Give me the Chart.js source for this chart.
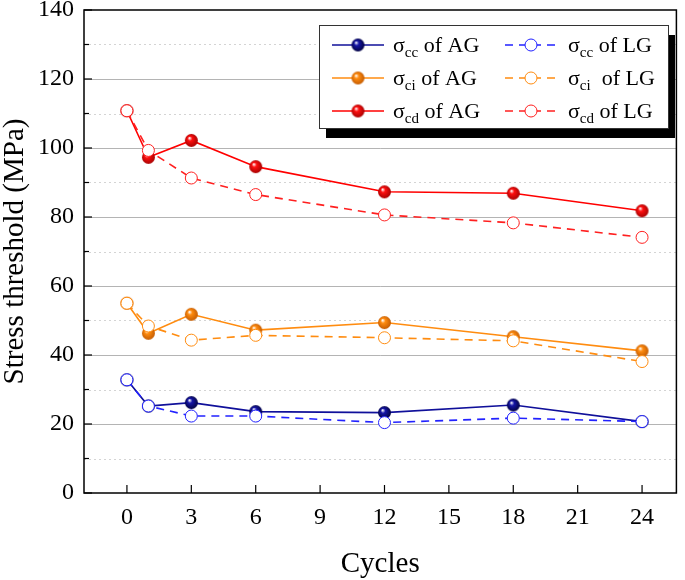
<!DOCTYPE html>
<html>
<head>
<meta charset="utf-8">
<script src="https://cdn.jsdelivr.net/npm/chart.js@4"></script>
<style>
  html, body { margin: 0; padding: 0; background: #fff; }
  #wrap { width: 685px; height: 580px; }
</style>
</head>
<body>
<div id="wrap"><canvas id="chart" width="685" height="580"></canvas></div>
<script>
// data
const cycles = [0, 1, 3, 6, 12, 18, 24];
const xTicks = [0, 3, 6, 9, 12, 15, 18, 21, 24];

const ccAG = [32.8, 25.2, 26.2, 23.6, 23.3, 25.5, 20.7];
const ccLG = [32.8, 25.2, 22.3, 22.3, 20.4, 21.7, 20.7];
const ciAG = [55.0, 46.3, 51.8, 47.2, 49.4, 45.3, 41.2];
const ciLG = [55.0, 48.4, 44.3, 45.7, 45.0, 44.1, 38.1];
const cdAG = [110.8, 97.3, 102.2, 94.6, 87.3, 86.9, 81.8];
const cdLG = [110.8, 99.3, 91.3, 86.5, 80.6, 78.3, 74.1];

const FONT = "'Liberation Serif', 'Times New Roman', serif";

// shaded ball marker for the AG series
function ball(color, dark) {
    const c = document.createElement('canvas');
    c.width = 15; c.height = 15;
    const g = c.getContext('2d');
    const grad = g.createRadialGradient(5.5, 5, 0.3, 7.5, 7.5, 7);
    grad.addColorStop(0, '#ffffff');
    grad.addColorStop(0.3, color);
    grad.addColorStop(1, dark);
    g.fillStyle = grad;
    g.beginPath();
    g.arc(7.5, 7.5, 6.5, 0, Math.PI * 2);
    g.fill();
    return c;
}

const colors = {
    cc: { ag: '#10109a', lg: '#2222ff', dark: '#00003a' },
    ci: { ag: '#ff8c10', lg: '#ff8c10', dark: '#c05800' },
    cd: { ag: '#ff0000', lg: '#ff2020', dark: '#a00000' }
};
const balls = {
    cc: ball('#1515a8', colors.cc.dark),
    ci: ball('#ff8c10', colors.ci.dark),
    cd: ball('#ff1010', colors.cd.dark)
};

function pts(arr) {
    return cycles.map((c, i) => ({ x: c, y: arr[i] }));
}

function agSet(key, arr) {
    return {
        label: 'σ' + key + ' of AG',
        data: pts(arr),
        borderColor: colors[key].ag,
        borderWidth: 1.6,
        pointStyle: balls[key],
        pointRadius: 7,
        tension: 0,
        order: 2
    };
}
function lgSet(key, arr) {
    return {
        label: 'σ' + key + ' of LG',
        data: pts(arr),
        borderColor: colors[key].lg,
        borderWidth: 1.6,
        borderDash: [8, 6],
        pointStyle: 'circle',
        pointRadius: 6,
        pointBorderWidth: 1,
        pointBackgroundColor: '#ffffff',
        pointBorderColor: colors[key].lg,
        tension: 0,
        order: 1
    };
}

// grid, frame and inward ticks
const framePlugin = {
    id: 'frame',
    beforeDatasetsDraw(chart) {
        const { ctx, chartArea: a, scales: { x, y } } = chart;
        ctx.save();
        const yt = y.ticks.map(t => t.value);
        // minor dotted lines
        ctx.strokeStyle = '#d4d4d4';
        ctx.lineWidth = 1;
        ctx.setLineDash([2, 3]);
        for (let i = 0; i < yt.length - 1; i++) {
            const py = Math.round(y.getPixelForValue((yt[i] + yt[i + 1]) / 2)) + 0.5;
            ctx.beginPath(); ctx.moveTo(a.left, py); ctx.lineTo(a.right, py); ctx.stroke();
        }
        // major lines
        ctx.setLineDash([]);
        ctx.strokeStyle = '#b4b4b4';
        yt.forEach(v => {
            if (v <= y.min || v >= y.max) return;
            const py = Math.round(y.getPixelForValue(v)) + 0.5;
            ctx.beginPath(); ctx.moveTo(a.left, py); ctx.lineTo(a.right, py); ctx.stroke();
        });
        ctx.restore();
    },
    afterDatasetsDraw(chart) {
        const { ctx, chartArea: a, scales: { x, y } } = chart;
        ctx.save();
        ctx.strokeStyle = '#000';
        ctx.lineWidth = 1.5;
        ctx.strokeRect(a.left, a.top, a.right - a.left, a.bottom - a.top);
        ctx.lineWidth = 1.2;
        const yt = y.ticks.map(t => t.value);
        yt.forEach((v, i) => {
            const py = y.getPixelForValue(v);
            ctx.beginPath(); ctx.moveTo(a.left, py); ctx.lineTo(a.left + 8, py); ctx.stroke();
            if (i < yt.length - 1) {
                const pm = y.getPixelForValue((v + yt[i + 1]) / 2);
                ctx.beginPath(); ctx.moveTo(a.left, pm); ctx.lineTo(a.left + 5, pm); ctx.stroke();
            }
        });
        x.ticks.forEach(t => {
            const px = x.getPixelForValue(t.value);
            ctx.beginPath(); ctx.moveTo(px, a.bottom); ctx.lineTo(px, a.bottom - 8); ctx.stroke();
        });
        ctx.restore();
    }
};

// legend with subscripts and drop shadow
const legendPlugin = {
    id: 'subLegend',
    afterDraw(chart) {
        const ctx = chart.ctx;
        const bx = 319, by = 25, bw = 349, bh = 103;
        ctx.save();
        ctx.fillStyle = '#000';
        ctx.fillRect(bx + 7, by + 10, bw, bh);
        ctx.fillStyle = '#fff';
        ctx.fillRect(bx, by, bw, bh);
        ctx.strokeStyle = '#333';
        ctx.lineWidth = 1;
        ctx.strokeRect(bx + 0.5, by + 0.5, bw, bh);

        const keys = ['cc', 'ci', 'cd'];
        const groups = [
            { name: 'AG', lx: 332, tx: 393, dash: [] },
            { name: 'LG', lx: 505, tx: 568, dash: [8, 6] }
        ];
        keys.forEach((k, r) => {
            const cy = 45 + r * 33;
            groups.forEach(g => {
                const col = g.name === 'AG' ? colors[k].ag : colors[k].lg;
                ctx.strokeStyle = col;
                ctx.lineWidth = 1.6;
                ctx.setLineDash(g.dash);
                ctx.beginPath(); ctx.moveTo(g.lx, cy); ctx.lineTo(g.lx + 52, cy); ctx.stroke();
                ctx.setLineDash([]);
                const mx = g.lx + 26;
                if (g.name === 'AG') {
                    ctx.drawImage(balls[k], mx - 7.5, cy - 7.5);
                } else {
                    ctx.fillStyle = '#fff';
                    ctx.beginPath(); ctx.arc(mx, cy, 6, 0, Math.PI * 2); ctx.fill();
                    ctx.lineWidth = 1;
                    ctx.stroke();
                }
                // text
                ctx.fillStyle = '#000';
                ctx.textBaseline = 'alphabetic';
                ctx.textAlign = 'left';
                const base = cy + 7;
                let tx = g.tx;
                ctx.font = '22px ' + FONT;
                ctx.fillText('σ', tx, base);
                tx += ctx.measureText('σ').width;
                ctx.font = '15px ' + FONT;
                ctx.fillText(k, tx, base + 5);
                tx += ctx.measureText(k).width;
                ctx.font = '22px ' + FONT;
                const rest = (k === 'ci' && g.name === 'LG') ? '  of LG' : ' of ' + g.name;
                ctx.fillText(rest, tx, base);
            });
        });
        ctx.restore();
    }
};

new Chart(document.getElementById('chart'), {
    type: 'line',
    data: {
        datasets: [
            lgSet('cc', ccLG), lgSet('ci', ciLG), lgSet('cd', cdLG),
            agSet('cc', ccAG), agSet('ci', ciAG), agSet('cd', cdAG)
        ]
    },
    options: {
        responsive: false,
        animation: false,
        layout: { padding: { top: 10, right: 7, left: 0, bottom: 0 } },
        plugins: {
            legend: { display: false },
            tooltip: { enabled: false }
        },
        scales: {
            x: {
                type: 'linear',
                min: -2,
                max: 25.6,
                afterBuildTicks: s => { s.ticks = xTicks.map(v => ({ value: v })); },
                afterFit: s => { s.height = 87; s.paddingLeft = 0; s.paddingRight = 0; },
                ticks: { font: { family: FONT, size: 24 }, color: '#000', padding: 10, maxRotation: 0, autoSkip: false },
                grid: { display: false, drawTicks: false },
                border: { display: false },
                title: {
                    display: true, text: 'Cycles', color: '#000',
                    font: { family: FONT, size: 29, lineHeight: 1.05 },
                    padding: { top: 0, bottom: 0 }
                }
            },
            y: {
                min: 0,
                max: 140,
                afterFit: s => { s.width = 84; s.paddingTop = 0; s.paddingBottom = 0; },
                ticks: { stepSize: 20, font: { family: FONT, size: 24 }, color: '#000', padding: 10 },
                grid: { display: false, drawTicks: false },
                border: { display: false },
                title: {
                    display: true, text: 'Stress threshold (MPa)', color: '#000',
                    font: { family: FONT, size: 29, lineHeight: 1.05 },
                    padding: { top: 0, bottom: 0 }
                }
            }
        }
    },
    plugins: [framePlugin, legendPlugin]
});
</script>
</body>
</html>
